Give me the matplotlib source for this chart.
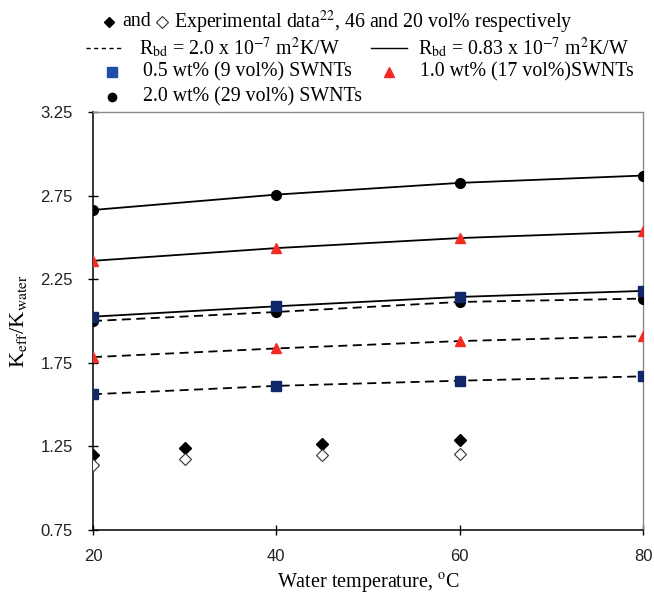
import numpy as np
import matplotlib
matplotlib.use("Agg")
import matplotlib.pyplot as plt
from matplotlib.lines import Line2D

plt.rcParams['mathtext.fontset'] = 'stix'

# model temperatures and effective conductivity ratios
temp = [20, 40, 60, 80]
sq_solid = [2.026, 2.088, 2.144, 2.180]     # 0.5 wt%, Rbd = 0.83e-7
tri_solid = [2.360, 2.436, 2.496, 2.536]    # 1.0 wt%
circ_solid = [2.664, 2.756, 2.826, 2.870]   # 2.0 wt%
sq_dash = [1.562, 1.612, 1.643, 1.669]      # 0.5 wt%, Rbd = 2.0e-7
tri_dash = [1.784, 1.836, 1.880, 1.910]
circ_dash = [2.000, 2.054, 2.114, 2.134]

# experimental data
exp_temp = [20, 30, 45, 60]
exp_46 = [1.197, 1.238, 1.266, 1.290]
exp_20 = [1.141, 1.173, 1.197, 1.207]

yticks = [0.75, 1.25, 1.75, 2.25, 2.75, 3.25]
xticks = [20, 40, 60, 80]

sq_col = '#10286a'
tri_col = '#f42a25'
serif = ['Liberation Serif', 'DejaVu Serif']
sans = ['Liberation Sans', 'DejaVu Sans']

fig = plt.figure(figsize=(6.54, 5.97), dpi=100)
ax = fig.add_axes([0.1422, 0.1122, 0.8410, 0.7002])

ms = 7
dash = (0, (5, 3))
ax.plot(temp, sq_dash, color='black', lw=1.3, ls=dash, marker='s', ms=ms,
        mfc=sq_col, mec=sq_col, zorder=3)
ax.plot(temp, tri_dash, color='black', lw=1.3, ls=dash, marker='^', ms=ms + 0.5,
        mfc=tri_col, mec=tri_col, zorder=3)
ax.plot(temp, circ_dash, color='black', lw=1.3, ls=dash, marker='o', ms=ms,
        mfc='black', mec='black', zorder=3)
ax.plot(temp, sq_solid, color='black', lw=1.3, marker='s', ms=ms,
        mfc=sq_col, mec=sq_col, zorder=3)
ax.plot(temp, tri_solid, color='black', lw=1.3, marker='^', ms=ms + 0.5,
        mfc=tri_col, mec=tri_col, zorder=3)
ax.plot(temp, circ_solid, color='black', lw=1.3, marker='o', ms=ms,
        mfc='black', mec='black', zorder=3)

ax.plot(exp_temp, exp_46, ls='none', marker='D', ms=6, color='black', zorder=4)
ax.plot(exp_temp, exp_20, ls='none', marker='D', ms=6, mfc='white',
        mec='#333333', mew=0.8, zorder=4)

ax.set_xlim(20, 80)
ax.set_ylim(0.75, 3.25)
ax.set_xticks(xticks)
ax.set_yticks(yticks)
ax.set_yticklabels([f'{v:.2f}' for v in yticks])
ax.tick_params(direction='inout', length=7, width=1, labelsize=12,
               labelcolor='#222222')
ax.tick_params(axis='y', pad=11)
ax.tick_params(axis='x', pad=10)
for lab in ax.get_xticklabels() + ax.get_yticklabels():
    lab.set_family(sans)

for s in ['left', 'bottom']:
    ax.spines[s].set_color('black')
    ax.spines[s].set_linewidth(1.1)
for s in ['top', 'right']:
    ax.spines[s].set_color('#8a8a8a')
    ax.spines[s].set_linewidth(1.0)

ax.set_xlabel('Water temperature, $^{\\mathrm{o}}$C', family=serif, fontsize=14.5,
              labelpad=6)
ax.set_ylabel('K$_{\\mathrm{eff}}$/K$_{\\mathrm{water}}$', family=serif, fontsize=16,
              labelpad=8)

# legend block above the axes, laid out by hand
fs = 14.3
def fy(py):
    return 1 - py / 597
def fx(px):
    return px / 654

fig.add_artist(Line2D([fx(109)], [fy(22)], ls='none', marker='D', ms=5.5, color='black'))
fig.text(fx(122), fy(22), 'and', family=serif, fontsize=fs, va='center')
fig.add_artist(Line2D([fx(162)], [fy(22)], ls='none', marker='D', ms=6, mfc='white',
                      mec='#333333', mew=0.8))
fig.text(fx(174), fy(22), 'Experimental data$^{22}$, 46 and 20 vol% respectively',
         family=serif, fontsize=fs, va='center')

fig.add_artist(Line2D([fx(86), fx(121)], [fy(48)] * 2, color='black', lw=1.0, ls=(0, (3, 2.5))))
fig.text(fx(139), fy(48), 'R$_{\\mathrm{bd}}$ = 2.0 x 10$^{-7}$ m$^{2}$K/W',
         family=serif, fontsize=fs, va='center')
fig.add_artist(Line2D([fx(371), fx(407)], [fy(48)] * 2, color='black', lw=1.0))
fig.text(fx(418), fy(48), 'R$_{\\mathrm{bd}}$ = 0.83 x 10$^{-7}$ m$^{2}$K/W',
         family=serif, fontsize=fs, va='center')

fig.add_artist(Line2D([fx(112)], [fy(72)], ls='none', marker='s', ms=6.5, color='#1f4ea8'))
fig.text(fx(143), fy(72), '0.5 wt% (9 vol%) SWNTs', family=serif, fontsize=fs, va='center')
fig.add_artist(Line2D([fx(389)], [fy(72)], ls='none', marker='^', ms=7.5, color=tri_col))
fig.text(fx(420), fy(72), '1.0 wt% (17 vol%)SWNTs', family=serif, fontsize=fs, va='center')

fig.add_artist(Line2D([fx(112)], [fy(97)], ls='none', marker='o', ms=6, color='black'))
fig.text(fx(143), fy(97), '2.0 wt% (29 vol%) SWNTs', family=serif, fontsize=fs, va='center')

fig.savefig('out.png', dpi=100)
